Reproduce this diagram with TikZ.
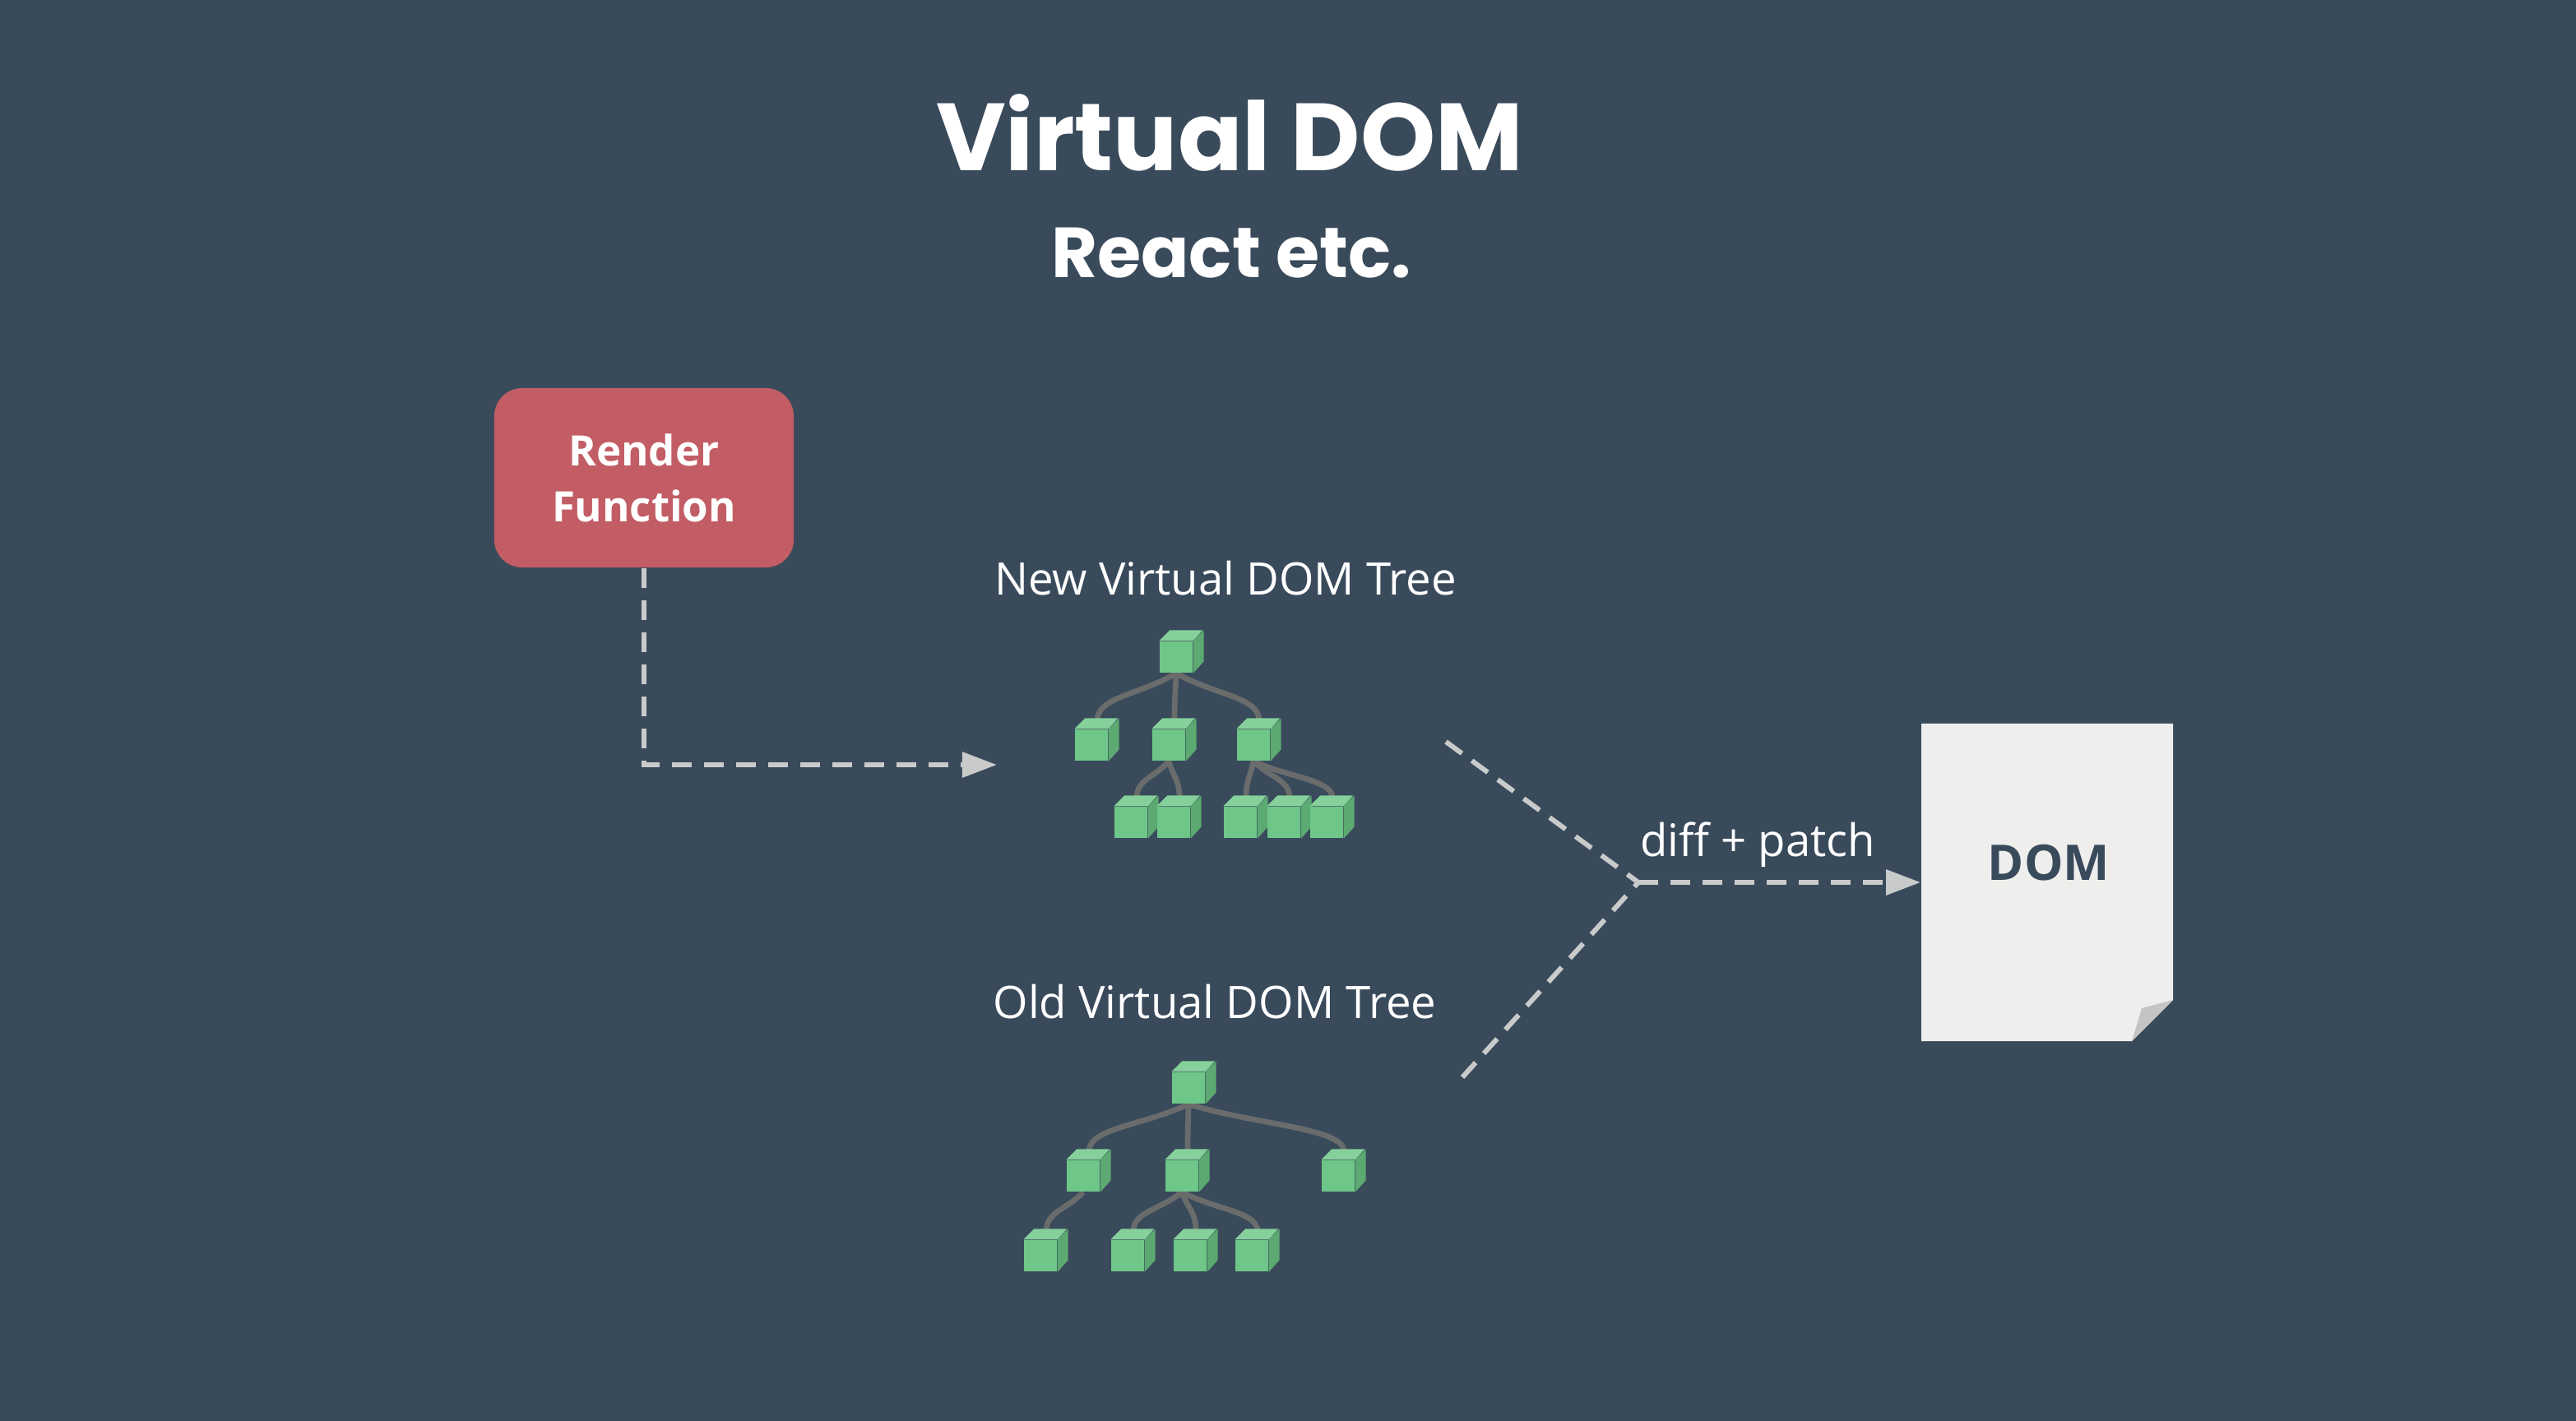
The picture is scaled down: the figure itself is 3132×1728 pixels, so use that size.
\documentclass[tikz,border=0pt]{standalone}
\usepackage{fontspec}
\setmainfont{Open Sans}
\newfontfamily\titlefont{Poppins}
\usetikzlibrary{arrows.meta,calc}
\definecolor{slate}{HTML}{394A5B}
\definecolor{cubegreen}{HTML}{6EC688}
\definecolor{cubelight}{HTML}{85D09B}
\definecolor{cubedark}{HTML}{5CA972}
\definecolor{linkgrey}{HTML}{6A6C6C}
\definecolor{dashgrey}{HTML}{C9CBCB}
\definecolor{boxred}{HTML}{C25D65}
\definecolor{paper}{HTML}{EEEFED}
\definecolor{foldgrey}{HTML}{C4C5C3}
\tikzset{
	cube/.style={rectangle, fill=cubegreen, inner sep=0pt,
	minimum width=.4cm, minimum height=.38cm,
	append after command={\pgfextra{
		\fill[cubelight] (\tikzlastnode.north west) -- ++(13,-13) -- ++(40,0)
			-- ($(\tikzlastnode.north east)$) -- cycle;
		\fill[cubedark] (\tikzlastnode.north east) -- ++(13,-13) -- ++(0,38)
			-- (\tikzlastnode.south east) -- cycle;
		\coordinate (\tikzlastnode-top) at ($(\tikzlastnode.north)+(7,-10)$);
	}}}
}
\tikzset{
	treelink/.style={line width=1.9pt, color=linkgrey, to path={
		.. controls ($(\tikztostart)!0.45!(\tikztotarget)$)
		and ($(\tikztotarget|-\tikztostart)!0.5!(\tikztotarget)$) .. (\tikztotarget)}}
}
\tikzset{
	dashlink/.style={line width=1.7pt, color=dashgrey, dash pattern=on .24cm off .15cm},
	dashtip/.style={-{Triangle[length=.42cm,width=.3cm]}}
}
\pgfdeclarelayer{background}
\pgfsetlayers{background,main}

\begin{document}
\begin{tikzpicture}[x=.01cm,y=-.01cm]
	\useasboundingbox (0,0) rectangle (3132,1728);
	\begin{pgfonlayer}{background}
		\fill[slate] (0,0) rectangle (3132,1728);
	\end{pgfonlayer}

	% titles
	\node (title) [text=white, font=\titlefont\bfseries\fontsize{33}{40}\selectfont] at (1495,161) {Virtual DOM};
	\node (subtitle) [text=white, font=\titlefont\bfseries\fontsize{24.5}{29}\selectfont] at (1497,308) {React etc.};

	% render function
	\node (render) [rectangle, rounded corners=.34cm, fill=boxred, text=white, align=center,
		minimum width=3.64cm, minimum height=2.18cm, inner sep=0pt,
		font=\bfseries\fontsize{14.5}{19.4}\selectfont] at (783,581) {Render\\Function};

	% new tree
	\node (newlabel) [text=white, font=\fontsize{15.5}{18}\selectfont] at (1490,703) {New Virtual DOM Tree};
	\node (n1) [cube] at (1430,799) {};
	\node (n2) [cube] at (1327,906) {};
	\node (n3) [cube] at (1421,906) {};
	\node (n4) [cube] at (1524,906) {};
	\node (n5) [cube] at (1375,1000) {};
	\node (n6) [cube] at (1427,1000) {};
	\node (n7) [cube] at (1508,1000) {};
	\node (n8) [cube] at (1561,1000) {};
	\node (n9) [cube] at (1613,1000) {};

	% old tree
	\node (oldlabel) [text=white, font=\fontsize{15.5}{18}\selectfont] at (1477,1218) {Old Virtual DOM Tree};
	\node (o1) [cube] at (1445,1323) {};
	\node (o2) [cube] at (1317,1430) {};
	\node (o3) [cube] at (1437,1430) {};
	\node (o4) [cube] at (1627,1430) {};
	\node (o5) [cube] at (1265,1527) {};
	\node (o6) [cube] at (1371,1527) {};
	\node (o7) [cube] at (1447,1527) {};
	\node (o8) [cube] at (1522,1527) {};

	\begin{pgfonlayer}{background}
		\draw (n1.south) edge [treelink] (n2-top); \draw (n1.south) edge [treelink] (n3-top);
		\draw (n1.south) edge [treelink] (n4-top);
		\draw (n3.south) edge [treelink] (n5-top); \draw (n3.south) edge [treelink] (n6-top);
		\draw (n4.south) edge [treelink] (n7-top); \draw (n4.south) edge [treelink] (n8-top);
		\draw (n4.south) edge [treelink] (n9-top);
		\draw (o1.south) edge [treelink] (o2-top); \draw (o1.south) edge [treelink] (o3-top);
		\draw (o1.south) edge [treelink] (o4-top);
		\draw (o2.south) edge [treelink] (o5-top);
		\draw (o3.south) edge [treelink] (o6-top); \draw (o3.south) edge [treelink] (o7-top);
		\draw (o3.south) edge [treelink] (o8-top);
	\end{pgfonlayer}

	% dom page
	\fill[paper] (2336,880) -- (2642,880) -- (2642,1216) -- (2592,1266) -- (2336,1266) -- cycle;
	\fill[foldgrey] (2642,1216) -- (2604,1226) -- (2592,1266) -- cycle;
	\node (dom) [rectangle, inner sep=0pt, minimum width=3.06cm, minimum height=3.86cm] at (2489,1073) {};
	\node (domlabel) [text=slate, font=\bfseries\fontsize{17}{20}\selectfont] at (2491,1049) {DOM};

	% dashed connectors
	\coordinate (bend) at (783,930);
	\coordinate (newin) at (1212,930);
	\coordinate (newout) at (1758,902);
	\coordinate (oldout) at (1778,1310);
	\coordinate (merge) at (1992,1073);
	\draw[dashlink, dashtip] (render.south) -- (bend) -- (newin);
	\draw[dashlink] (newout) -- (merge);
	\draw[dashlink] (oldout) -- (merge);
	\draw[dashlink, dashtip] (merge) -- (dom.west);
	\node (difflabel) [text=white, font=\fontsize{15.5}{18}\selectfont] at (2137,1027) {diff + patch};
\end{tikzpicture}
\end{document}
